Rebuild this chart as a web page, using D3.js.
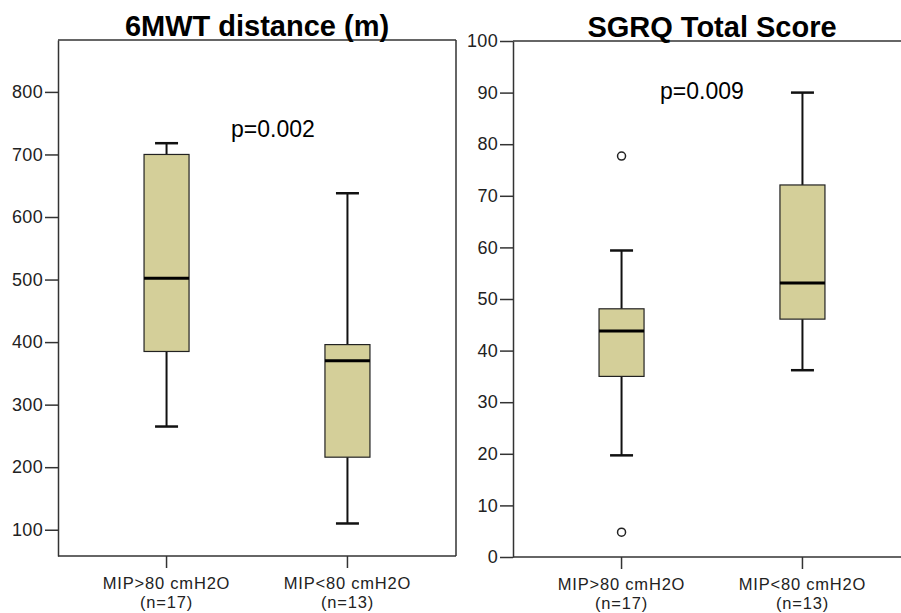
<!DOCTYPE html>
<html lang="en">
<head>
  <meta charset="UTF-8">
  <title>MIP box plots</title>
  <script src="https://d3js.org/d3.v7.min.js"></script>
  <style>
    body { margin: 0; background: #fff; }
    text { font-family: "Liberation Sans", Arial, sans-serif; }
    .tick text { font-size: 18px; fill: #222; letter-spacing: 0.3px; }
    .title { font-size: 29px; font-weight: bold; text-anchor: middle; }
    .pval { font-size: 23px; }
    .xlab { font-size: 16.5px; fill: #222; text-anchor: middle; letter-spacing: 0.8px; }
  </style>
</head>
<body>
  <svg width="901" height="613"></svg>

  <script>
    // Groups and stats
    const groups = ["MIP>80 cmH2O", "MIP<80 cmH2O"];
    const counts = [17, 13];

    const walkStats = [
      {lo: 265, q1: 385, med: 502, q3: 700, hi: 718, out: []},
      {lo: 110, q1: 216, med: 370, q3: 396, hi: 638, out: []}
    ];
    const sgrqStats = [
      {lo: 19.7, q1: 35, med: 43.8, q3: 48.1, hi: 59.4, out: [77.7, 4.8]},
      {lo: 36.2, q1: 46.1, med: 53.1, q3: 72.1, hi: 90, out: []}
    ];

    const walkTicks = [100, 200, 300, 400, 500, 600, 700, 800];
    const sgrqTicks = [0, 10, 20, 30, 40, 50, 60, 70, 80, 90, 100];

    const svg = d3.select("svg");
    const boxFill = "#d4cf99";

    function panel(opts) {
      const {left, top, bottom, width, domain, ticks, stats, title, pText, pPos, closed} = opts;
      const g = svg.append("g");

      const y = d3.scaleLinear().domain(domain).range([bottom, top]);
      const x = d3.scalePoint().domain(groups).range([left, left + width]).padding(0.6);

      // frame
      g.append("line").attr("x1", left).attr("x2", left + width)
        .attr("y1", top).attr("y2", top).attr("stroke", "#333").attr("stroke-width", 1.5);
      g.append("line").attr("x1", left).attr("x2", left + width)
        .attr("y1", bottom).attr("y2", bottom).attr("stroke", "#333").attr("stroke-width", 1.5);
      if (closed) {
        g.append("line").attr("x1", left + width).attr("x2", left + width)
          .attr("y1", top).attr("y2", bottom).attr("stroke", "#333").attr("stroke-width", 1.5);
      }

      // y axis
      const ya = g.append("g")
        .attr("transform", `translate(${left},0)`)
        .call(d3.axisLeft(y).tickValues(ticks).tickSize(13).tickSizeOuter(0).tickPadding(2));
      ya.select(".domain").attr("stroke", "#333").attr("stroke-width", 1.5);
      ya.selectAll(".tick line").attr("stroke", "#333").attr("stroke-width", 1.5);

      // x ticks and labels
      const xa = g.append("g");
      groups.forEach((name, i) => {
        xa.append("line").attr("x1", x(name)).attr("x2", x(name))
          .attr("y1", bottom).attr("y2", bottom + 12).attr("stroke", "#333").attr("stroke-width", 1.5);
        xa.append("text").attr("class", "xlab").attr("x", x(name)).attr("y", bottom + 33).text(name);
        xa.append("text").attr("class", "xlab").attr("x", x(name)).attr("y", bottom + 52).text(`(n=${counts[i]})`);
      });

      // boxes
      const bw = 45, cap = 23;
      stats.forEach((s, i) => {
        const cx = x(groups[i]);
        const b = g.append("g");
        b.append("line").attr("x1", cx).attr("x2", cx).attr("y1", y(s.hi)).attr("y2", y(s.q3))
          .attr("stroke", "#111").attr("stroke-width", 2);
        b.append("line").attr("x1", cx).attr("x2", cx).attr("y1", y(s.q1)).attr("y2", y(s.lo))
          .attr("stroke", "#111").attr("stroke-width", 2);
        b.append("line").attr("x1", cx - cap / 2).attr("x2", cx + cap / 2).attr("y1", y(s.hi)).attr("y2", y(s.hi))
          .attr("stroke", "#111").attr("stroke-width", 2.5);
        b.append("line").attr("x1", cx - cap / 2).attr("x2", cx + cap / 2).attr("y1", y(s.lo)).attr("y2", y(s.lo))
          .attr("stroke", "#111").attr("stroke-width", 2.5);
        b.append("rect").attr("x", cx - bw / 2).attr("width", bw)
          .attr("y", y(s.q3)).attr("height", y(s.q1) - y(s.q3))
          .attr("fill", boxFill).attr("stroke", "#222").attr("stroke-width", 1.2);
        b.append("line").attr("x1", cx - bw / 2).attr("x2", cx + bw / 2).attr("y1", y(s.med)).attr("y2", y(s.med))
          .attr("stroke", "#000").attr("stroke-width", 3);
        b.selectAll("circle").data(s.out).join("circle")
          .attr("cx", cx).attr("cy", d => y(d)).attr("r", 4)
          .attr("fill", "#fff").attr("stroke", "#222").attr("stroke-width", 1.5);
      });

      g.append("text").attr("class", "title").attr("x", left + width / 2).attr("y", top - 4).text(title);
      g.append("text").attr("class", "pval").attr("x", pPos[0]).attr("y", pPos[1]).text(pText);
    }

    panel({
      left: 58, top: 40, bottom: 556, width: 398, domain: [58, 883],
      ticks: walkTicks, stats: walkStats, title: "6MWT distance (m)",
      pText: "p=0.002", pPos: [231, 137], closed: true
    });

    panel({
      left: 513, top: 41, bottom: 557, width: 398, domain: [0, 100],
      ticks: sgrqTicks, stats: sgrqStats, title: "SGRQ Total Score",
      pText: "p=0.009", pPos: [660, 99], closed: false
    });
  </script>
</body>
</html>
